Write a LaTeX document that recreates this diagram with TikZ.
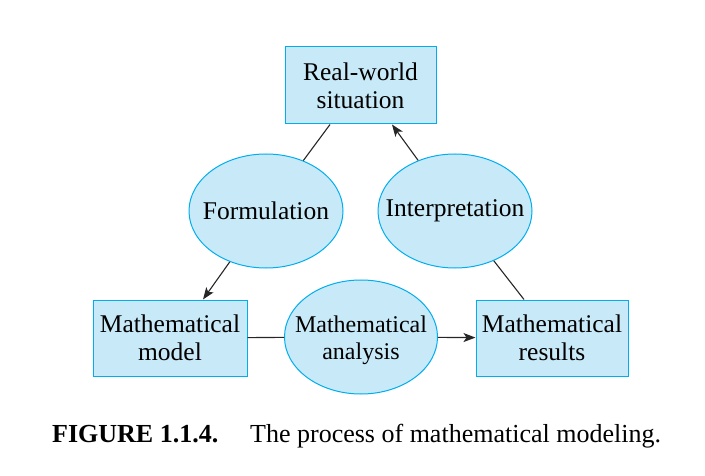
\documentclass[tikz,border=0pt]{standalone}
\usepackage{fontspec}
\setmainfont{Liberation Serif}
\usetikzlibrary{shapes.geometric,arrows.meta}
\definecolor{boxfill}{RGB}{200,234,248}
\definecolor{boxline}{RGB}{0,174,239}
\tikzset{
  lbl/.style={font=\fontsize{25.5}{28}\selectfont, align=center, inner sep=0pt},
  stagebox/.style={lbl, rectangle, draw=boxline, fill=boxfill, line width=1pt},
  stageell/.style={ellipse, draw=boxline, fill=boxfill, line width=1pt, inner sep=0pt},
  conn/.style={line width=1.1pt, draw=black!85},
  arr/.style={conn, -{Stealth[length=12pt,width=9pt,inset=3pt]}}
}
\begin{document}
\begin{tikzpicture}[x=1pt,y=-1pt]
\useasboundingbox (0,0) rectangle (705,476);
\node[stagebox, minimum width=151pt, minimum height=77pt] (real) at (360.5,85.5) {Real-world\\situation};
\node[stageell, minimum width=154pt, minimum height=114pt] (form) at (266,211) {};
\node[lbl] (formt) at (form.center) {Formulation};
\node[stageell, minimum width=154pt, minimum height=114pt] (interp) at (455,211) {};
\node[lbl] (interpt) at (interp.center) {Interpretation};
\node[stagebox, minimum width=154pt, minimum height=76pt] (model) at (170,338) {Mathematical\\model};
\node[stageell, minimum width=153pt, minimum height=114pt] (anal) at (361,337) {};
\node[lbl, font=\fontsize{24}{27}\selectfont] (analt) at (361,340) {Mathematical\\analysis};
\node[stagebox, minimum width=152pt, minimum height=76pt] (res) at (552,338) {Mathematical\\results};
\draw[conn] (real.south -| 330,0) -- (form);
\draw[arr] (interp) -- (real.south -| 392,0);
\draw[arr] (form) -- (model.north -| 203,0);
\draw[conn] (interp) -- (res.north -| 524,0);
\draw[conn] (model) -- (anal);
\draw[arr] (anal) -- (res);
\node[anchor=base west, inner sep=0pt, font=\fontsize{26}{30}\selectfont\bfseries] (figlab) at (52,442) {FIGURE 1.1.4.};
\node[anchor=base west, inner sep=0pt, font=\fontsize{26}{30}\selectfont] (figcap) at (250,442) {The process of mathematical modeling.};
\end{tikzpicture}
\end{document}
